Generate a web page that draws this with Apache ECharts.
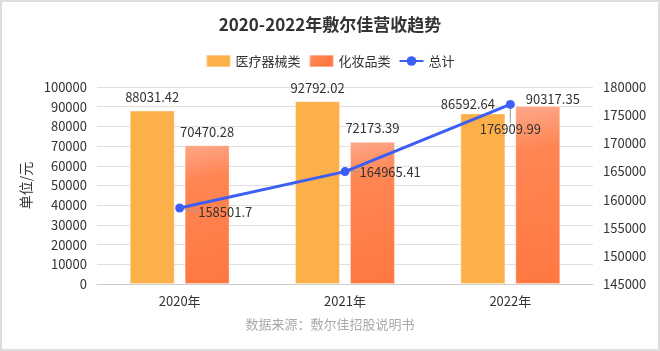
<!DOCTYPE html>
<html>
<head>
<meta charset="utf-8">
<script src="https://cdn.jsdelivr.net/npm/echarts@6/dist/echarts.min.js"></script>
<style>
  html, body { margin: 0; padding: 0; background: #fff; }
  #chart { width: 660px; height: 351px; }
</style>
</head>
<body>
<div id="chart"></div>
<script>
const years = ['2020年', '2021年', '2022年']
const medical = [88031.42, 92792.02, 86592.64]
const cosmetic = [70470.28, 72173.39, 90317.35]
const total = [158501.7, 164965.41, 176909.99]
const leftTicks = { min: 0, max: 100000, interval: 10000 }
const rightTicks = { min: 145000, max: 180000, interval: 5000 }

const font = 'Noto Sans CJK SC'
const myChart = echarts.init(document.getElementById('chart'))

// 2022 的两个柱标签被挤开了
const medicalData = medical.map((v, i) => i === 2 ? { value: v, label: { offset: [-15, 4] } } : v)
const cosmeticData = cosmetic.map((v, i) => i === 2 ? { value: v, label: { offset: [15, 6] } } : v)
const totalData = total.map((v, i) => i === 2 ? { value: v, label: { position: 'bottom', distance: 4 } } : v)

const plain = v => String(v)

const option = {
  backgroundColor: '#fff',
  textStyle: { fontFamily: font },
  title: {
    text: '2020-2022年敷尔佳营收趋势',
    left: 'center',
    top: 11,
    textStyle: { fontSize: 17, fontWeight: 'bold', color: '#333', fontFamily: font }
  },
  legend: {
    top: 49,
    left: 'center',
    itemWidth: 24,
    itemHeight: 12,
    itemGap: 8,
    textStyle: { fontSize: 13, color: '#333', fontFamily: font },
    data: [
      { name: '医疗器械类', icon: 'rect' },
      { name: '化妆品类', icon: 'rect' },
      { name: '总计' }
    ]
  },
  grid: { left: 97, right: 67, top: 87, bottom: 67 },
  graphic: [
    {
      type: 'text',
      left: 'center',
      top: 318,
      style: { text: '数据来源：敷尔佳招股说明书', fill: '#aaa', fontSize: 13, fontFamily: font }
    },
    {
      type: 'rect',
      shape: { x: 0, y: 0, width: 660, height: 351 },
      style: { fill: 'none', stroke: '#ddd', lineWidth: 4 },
      silent: true
    }
  ],
  xAxis: {
    type: 'category',
    data: years,
    axisLine: { lineStyle: { color: '#ccc' } },
    axisTick: { show: false },
    axisLabel: { fontSize: 13, color: '#333', margin: 11 }
  },
  yAxis: [
    {
      type: 'value',
      name: '单位/元',
      nameLocation: 'middle',
      nameGap: 50,
      nameTextStyle: { fontSize: 14, color: '#333' },
      min: leftTicks.min,
      max: leftTicks.max,
      interval: leftTicks.interval,
      axisLabel: { fontSize: 13, color: '#333', margin: 10, formatter: plain },
      splitLine: { lineStyle: { color: '#e0e0e0' } }
    },
    {
      type: 'value',
      min: rightTicks.min,
      max: rightTicks.max,
      interval: rightTicks.interval,
      axisLabel: { fontSize: 13, color: '#333', margin: 10, formatter: plain },
      splitLine: { show: false }
    }
  ],
  series: [
    {
      name: '医疗器械类',
      type: 'bar',
      barWidth: 45,
      barGap: '22%',
      data: medicalData,
      itemStyle: { color: '#fbb04a', borderColor: 'rgba(255,255,255,0.35)', borderWidth: 1 },
      label: { show: true, position: 'top', distance: 7, fontSize: 13, color: '#333' }
    },
    {
      name: '化妆品类',
      type: 'bar',
      barWidth: 45,
      data: cosmeticData,
      itemStyle: {
        color: new echarts.graphic.LinearGradient(0, 0, 0.6, 1, [
          { offset: 0, color: '#fda88b' },
          { offset: 0.25, color: '#ff8654' },
          { offset: 1, color: '#ff7842' }
        ]),
        borderColor: 'rgba(255,255,255,0.35)',
        borderWidth: 1
      },
      label: { show: true, position: 'top', distance: 7, fontSize: 13, color: '#333' }
    },
    {
      name: '总计',
      type: 'line',
      yAxisIndex: 1,
      data: totalData,
      symbol: 'circle',
      symbolSize: 9,
      lineStyle: { width: 3, color: '#3d5ef5' },
      itemStyle: { color: '#3d5ef5' },
      label: { show: true, position: 'right', distance: 10, fontSize: 13, color: '#333' },
      labelLine: { show: true, lineStyle: { color: '#999', width: 1 } },
      labelLayout: function (params) {
        if (params.dataIndex === 0) return { dx: 4, dy: 4 }
        if (params.dataIndex === 2) return { dy: 10 }
        return {}
      }
    }
  ]
}
myChart.setOption(option)
</script>
</body>
</html>
